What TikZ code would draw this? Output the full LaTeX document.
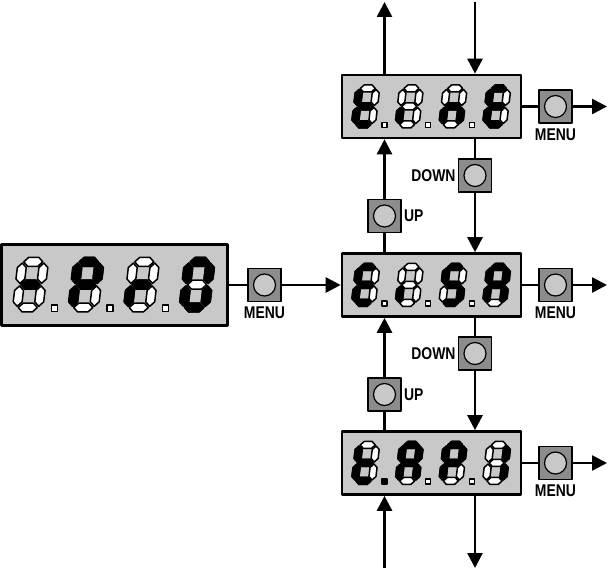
\documentclass[tikz,border=0pt]{standalone}
\usepackage{fontspec}
\newfontfamily\keyfont{Liberation Sans}[FakeStretch=0.82]
\usetikzlibrary{arrows.meta,positioning}

\definecolor{lcdgray}{RGB}{200,200,200}
\definecolor{keygray}{RGB}{140,140,140}

% segments of one digit (a top, b upper right, c lower right, d bottom, e lower left, f upper left, g middle)
\tikzset{
  seg a/.style={insert path={(4.5,39.5) -- (8,43) -- (16,43) -- (19.5,39.5) -- (16,36) -- (8,36) -- cycle}},
  seg g/.style={insert path={(4.5,21.5) -- (8,25) -- (16,25) -- (19.5,21.5) -- (16,18) -- (8,18) -- cycle}},
  seg d/.style={insert path={(4.5,3.5) -- (8,7) -- (16,7) -- (19.5,3.5) -- (16,0) -- (8,0) -- cycle}},
  seg f/.style={insert path={(3.5,22.5) -- (7,26) -- (7,35) -- (3.5,38.5) -- (0,35) -- (0,26) -- cycle}},
  seg b/.style={insert path={(20.5,22.5) -- (24,26) -- (24,35) -- (20.5,38.5) -- (17,35) -- (17,26) -- cycle}},
  seg e/.style={insert path={(3.5,4.5) -- (7,8) -- (7,17) -- (3.5,20.5) -- (0,17) -- (0,8) -- cycle}},
  seg c/.style={insert path={(20.5,4.5) -- (24,8) -- (24,17) -- (20.5,20.5) -- (17,17) -- (17,8) -- cycle}},
  segoff/.style={draw, line width=1.5pt, fill=white},
  segon/.style={draw, line width=1.5pt, fill=black},
}

% #1 lower left corner, #2 scale, #3 lit segments, #4 style of the dot (empty: no dot)
\newcommand{\lcddigit}[4]{%
  \begin{scope}[shift={#1}, scale=#2]
    \begin{scope}[xslant=0.12]
      \foreach \s in {a,b,c,d,e,f,g} \path[segoff, seg \s];
      \foreach \s in {#3} \path[segon, seg \s];
    \end{scope}
    \path[#4] (31,0.5) rectangle (36,5.5);
  \end{scope}}

\begin{document}
\begin{tikzpicture}[x=1pt, y=1pt, line join=round,
  display/.style={draw, line width=2.6pt, fill=lcdgray, minimum width=179pt, minimum height=63pt, inner sep=0pt},
  bigdisplay/.style={display, minimum width=226pt, minimum height=81pt},
  key/.style={draw, line width=1.6pt, fill=keygray, minimum size=33pt, inner sep=0pt,
    path picture={\draw[line width=1.2pt, fill=lcdgray] (path picture bounding box.center) circle (11pt);}},
  keylabel/.style={font=\keyfont\bfseries\fontsize{17pt}{17pt}\selectfont, inner sep=1pt},
  wire/.style={line width=2.6pt},
  flow/.style={wire, -{Triangle[width=15pt,length=15pt]}},
]
  \useasboundingbox (0,0) rectangle (610,570);

  % displays
  \node[bigdisplay] (prog) at (114.5,285) {};
  \node[display] (tine) at (431.5,463.5) {};
  \node[display] (ensa) at (431.5,285) {};
  \node[display] (tapi) at (431.5,107) {};

  % -Pr0
  \lcddigit{(12,258)}{1.27}{g}{segoff}
  \lcddigit{(67.5,258)}{1.27}{a,b,f,g,e}{segoff}
  \lcddigit{(123,258)}{1.27}{e,g}{segoff}
  \lcddigit{(178.5,258)}{1.27}{a,b,c,d,e,f}{}
  % tinE
  \lcddigit{(351,442)}{1}{f,g,e,d}{segoff}
  \lcddigit{(394.7,442)}{1}{e}{segoff}
  \lcddigit{(438.4,442)}{1}{e,g,c}{segoff}
  \lcddigit{(482.1,442)}{1}{a,f,g,e,d}{}
  % EiSA
  \lcddigit{(351,263.5)}{1}{a,f,g,e,d}{segoff}
  \lcddigit{(394.7,263.5)}{1}{e}{segoff}
  \lcddigit{(438.4,263.5)}{1}{a,f,g,c,d}{segoff}
  \lcddigit{(482.1,263.5)}{1}{a,b,c,e,f,g}{}
  % t.AP1
  \lcddigit{(351,85.5)}{1}{f,g,e,d}{segon}
  \lcddigit{(394.7,85.5)}{1}{a,b,c,e,f,g}{segoff}
  \lcddigit{(438.4,85.5)}{1}{a,b,f,g,e}{segoff}
  \lcddigit{(482.1,85.5)}{1}{b,c}{}

  % keys
  \node[key] (menuP) at (264.5,285) {};
  \node[key] (menuT) at (555.5,463.5) {};
  \node[key] (menuE) at (555.5,285) {};
  \node[key] (menuA) at (555.5,107) {};
  \node[key] (downT) at (475,394.5) {};
  \node[key] (upE) at (384.5,354) {};
  \node[key] (downE) at (475,216.5) {};
  \node[key] (upA) at (384.5,175.5) {};

  \node[keylabel, below=3.5pt of menuP] (lmenuP) {MENU};
  \node[keylabel, below=3.5pt of menuT] (lmenuT) {MENU};
  \node[keylabel, below=3.5pt of menuE] (lmenuE) {MENU};
  \node[keylabel, below=3.5pt of menuA] (lmenuA) {MENU};
  \node[keylabel, left=1pt of downT] (ldownT) {DOWN};
  \node[keylabel, left=1pt of downE] (ldownE) {DOWN};
  \node[keylabel, right=1pt of upE] (lupE) {UP};
  \node[keylabel, right=1pt of upA] (lupA) {UP};

  % free ends
  \coordinate (topUp) at (384.5,568);
  \coordinate (topDown) at (475,568);
  \coordinate (botUp) at (384.5,2);
  \coordinate (botDown) at (475,2);
  \coordinate (exitT) at (607,463.5);
  \coordinate (exitE) at (607,285);
  \coordinate (exitA) at (607,107);

  % MENU
  \draw[wire] (prog) -- (menuP);
  \draw[flow] (menuP) -- (ensa);
  \draw[wire] (tine) -- (menuT);
  \draw[flow] (menuT) -- (exitT);
  \draw[wire] (ensa) -- (menuE);
  \draw[flow] (menuE) -- (exitE);
  \draw[wire] (tapi) -- (menuA);
  \draw[flow] (menuA) -- (exitA);

  % UP / DOWN
  \draw[flow] (tine.north -| topUp) -- (topUp);
  \draw[flow] (topDown) -- (tine.north -| topDown);
  \draw[wire] (ensa.north -| upE) -- (upE);
  \draw[flow] (upE) -- (tine.south -| upE);
  \draw[wire] (tine.south -| downT) -- (downT);
  \draw[flow] (downT) -- (ensa.north -| downT);
  \draw[wire] (tapi.north -| upA) -- (upA);
  \draw[flow] (upA) -- (ensa.south -| upA);
  \draw[wire] (ensa.south -| downE) -- (downE);
  \draw[flow] (downE) -- (tapi.north -| downE);
  \draw[flow] (botUp) -- (tapi.south -| botUp);
  \draw[flow] (tapi.south -| botDown) -- (botDown);
\end{tikzpicture}
\end{document}
